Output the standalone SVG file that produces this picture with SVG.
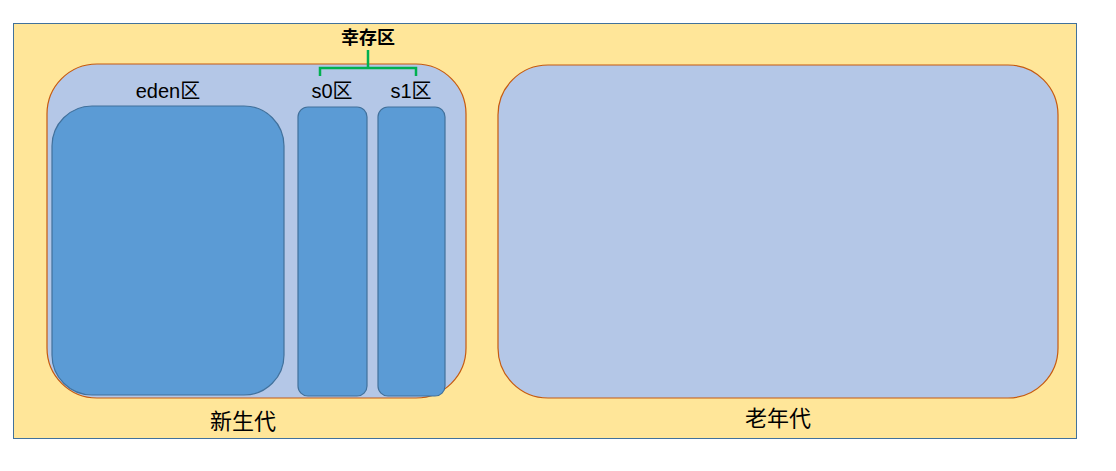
<svg xmlns="http://www.w3.org/2000/svg" width="1116" height="471" viewBox="0 0 1116 471">
<style>
text{font-family:"Liberation Sans","Noto Sans CJK SC",sans-serif;fill:#000;text-anchor:middle}
.gen{fill:#b4c7e7;stroke:#c55a11;stroke-width:1.2}
.sp{fill:#5b9bd5;stroke:#41719c;stroke-width:1.2}
</style>
<rect x="0" y="0" width="1116" height="471" fill="#fff"/>
<g id="heap"><rect x="13.5" y="23.5" width="1063" height="415" fill="#ffe699" stroke="#41719c"/></g>
<g id="young"><rect class="gen" x="47" y="64" width="419" height="334" rx="50"/><text x="243" y="429" font-size="22">新生代</text></g>
<g id="old"><rect class="gen" x="498" y="65" width="560" height="333" rx="50"/><text x="778" y="426" font-size="22">老年代</text></g>
<g id="eden"><rect class="sp" x="52" y="106" width="232" height="289" rx="40"/><text x="168" y="98" font-size="20">eden区</text></g>
<g id="s0"><rect class="sp" x="298" y="107" width="69" height="289" rx="10"/><text x="332" y="98" font-size="20">s0区</text></g>
<g id="s1"><rect class="sp" x="378" y="107" width="67" height="289" rx="10"/><text x="411" y="98" font-size="20">s1区</text></g>
<g id="survivor"><text x="368" y="44" font-size="18" font-weight="bold">幸存区</text></g>
<g id="connectors"><path d="M320 76 V68 H416 V76 M368 68 V50" fill="none" stroke="#00b050" stroke-width="2.5"/></g>
</svg>
